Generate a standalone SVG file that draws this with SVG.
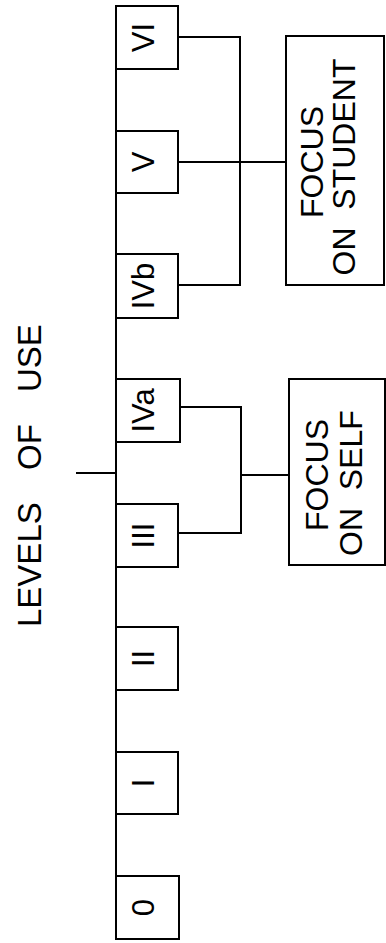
<svg xmlns="http://www.w3.org/2000/svg" width="386" height="943" viewBox="0 0 386 943">
<style>
.box{fill:#fff;stroke:#000;stroke-width:2}
.ln{fill:none;stroke:#000;stroke-width:2}
text{font-family:"Liberation Sans",Arial,sans-serif;fill:#000}
.lv{font-size:31px;text-anchor:middle}
.fc{font-size:32px;text-anchor:middle}
.tt{font-size:33px}
</style>
<rect width="386" height="943" fill="#fff"/>
<text id="title" class="tt" transform="translate(41,627) rotate(-90)"><tspan x="0">LEVELS</tspan><tspan x="157">OF</tspan><tspan x="235">USE</tspan></text>
<g id="connectors">
<line class="ln" x1="116" y1="6" x2="116" y2="939"/>
<line class="ln" x1="76" y1="473" x2="116" y2="473"/>
<polyline class="ln" points="178,37 240,37 240,285 178,285"/>
<line class="ln" x1="178" y1="162" x2="286" y2="162"/>
<polyline class="ln" points="180,407 241,407 241,533 178,533"/>
<line class="ln" x1="241" y1="475" x2="289" y2="475"/>
</g>
<g id="VI"><rect class="box" x="116" y="6" width="62" height="63"/><text class="lv" transform="translate(154,37.5) rotate(-90)">VI</text></g>
<g id="V"><rect class="box" x="116" y="131" width="62" height="62"/><text class="lv" transform="translate(154,162) rotate(-90)">V</text></g>
<g id="IVb"><rect class="box" x="116" y="254" width="62" height="64"/><text class="lv" transform="translate(154,286) rotate(-90)">IVb</text></g>
<g id="IVa"><rect class="box" x="116" y="379" width="64" height="63"/><text class="lv" transform="translate(154,410.5) rotate(-90)">IVa</text></g>
<g id="III"><rect class="box" x="116" y="504" width="62" height="63"/><text class="lv" transform="translate(154,535.5) rotate(-90)">III</text></g>
<g id="II"><rect class="box" x="116" y="627" width="62" height="63"/><text class="lv" transform="translate(154,658.5) rotate(-90)">II</text></g>
<g id="I"><rect class="box" x="116" y="752" width="62" height="62"/><text class="lv" transform="translate(154,783) rotate(-90)">I</text></g>
<g id="L0"><rect class="box" x="116" y="876" width="63" height="63"/><text class="lv" transform="translate(154,907.5) rotate(-90)">0</text></g>
<g id="student"><rect class="box" x="286" y="36" width="98" height="249"/><text class="fc" transform="translate(323,162) rotate(-90)">FOCUS</text><text class="fc" transform="translate(355,167) rotate(-90)" xml:space="preserve">ON  STUDENT</text></g>
<g id="self"><rect class="box" x="289" y="379" width="96" height="186"/><text class="fc" transform="translate(328,475) rotate(-90)">FOCUS</text><text class="fc" transform="translate(362,483) rotate(-90)" xml:space="preserve">ON  SELF</text></g>
</svg>
